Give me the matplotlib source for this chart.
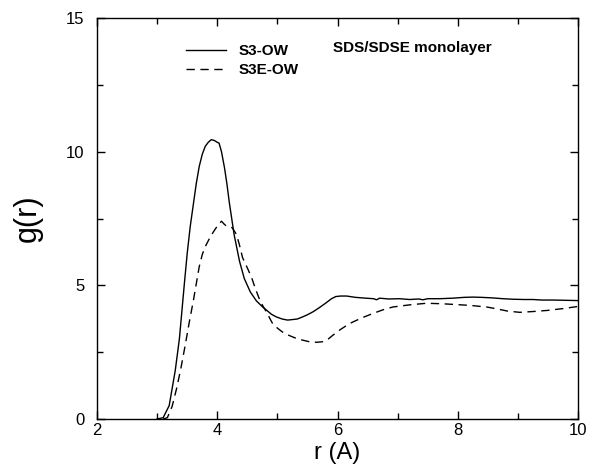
import numpy as np
import matplotlib
matplotlib.use('Agg')
import matplotlib.pyplot as plt
from matplotlib.ticker import MultipleLocator

plt.rcParams['font.family'] = ['Liberation Sans', 'DejaVu Sans']

# S3-OW radial distribution (solid)
r_s3 = [3.0, 3.1, 3.2, 3.3, 3.37, 3.45, 3.5, 3.55, 3.6, 3.65, 3.7, 3.75, 3.8, 3.85,
        3.9, 3.95, 4.0, 4.03, 4.07, 4.12, 4.16, 4.2, 4.28, 4.37, 4.45, 4.55, 4.65,
        4.75, 4.82, 4.9, 4.98, 5.08, 5.17, 5.25, 5.33, 5.42, 5.5, 5.6, 5.7, 5.8,
        5.9, 5.97, 6.05, 6.15, 6.3, 6.47, 6.6, 6.65, 6.7, 6.85, 7.03, 7.2, 7.35,
        7.42, 7.5, 7.7, 7.92, 8.1, 8.25, 8.4, 8.58, 8.75, 8.92, 9.1, 9.25, 9.4,
        9.58, 9.8, 10.0]
g_s3 = [0.0, 0.05, 0.5, 1.8, 3.0, 5.0, 6.2, 7.2, 8.0, 8.8, 9.45, 9.9, 10.2, 10.35,
        10.45, 10.42, 10.35, 10.32, 10.0, 9.4, 8.8, 8.1, 6.9, 5.9, 5.25, 4.75, 4.42,
        4.2, 4.07, 3.92, 3.82, 3.74, 3.7, 3.72, 3.74, 3.82, 3.9, 4.02, 4.17, 4.33,
        4.5, 4.58, 4.6, 4.6, 4.55, 4.52, 4.5, 4.46, 4.52, 4.49, 4.5, 4.47, 4.49,
        4.46, 4.5, 4.5, 4.52, 4.55, 4.56, 4.55, 4.53, 4.5, 4.48, 4.47, 4.47, 4.45,
        4.45, 4.44, 4.43]

# S3E-OW radial distribution (dashed)
r_s3e = [3.1, 3.17, 3.25, 3.33, 3.4, 3.47, 3.53, 3.6, 3.65, 3.7, 3.75, 3.8, 3.87,
         3.93, 3.98, 4.03, 4.07, 4.11, 4.15, 4.2, 4.25, 4.32, 4.37, 4.42, 4.5, 4.57,
         4.63, 4.7, 4.76, 4.82, 4.87, 4.92, 5.0, 5.08, 5.2, 5.32, 5.42, 5.53, 5.65,
         5.75, 5.85, 5.92, 6.05, 6.2, 6.4, 6.58, 6.75, 6.92, 7.2, 7.48, 7.75, 7.98,
         8.2, 8.48, 8.65, 8.82, 9.03, 9.25, 9.48, 9.75, 10.0]
g_s3e = [0.0, 0.05, 0.48, 1.2, 1.96, 2.8, 3.57, 4.4, 5.05, 5.7, 6.15, 6.45, 6.75,
         6.98, 7.15, 7.3, 7.4, 7.3, 7.22, 7.2, 7.15, 6.9, 6.5, 6.04, 5.65, 5.3,
         4.9, 4.49, 4.22, 4.0, 3.78, 3.57, 3.4, 3.26, 3.12, 3.01, 2.95, 2.89, 2.87,
         2.89, 3.0, 3.13, 3.35, 3.57, 3.78, 3.94, 4.08, 4.19, 4.27, 4.33, 4.31, 4.28,
         4.25, 4.19, 4.12, 4.04, 3.99, 4.02, 4.06, 4.13, 4.21]

fig = plt.figure(figsize=(5.92, 4.68), dpi=100)
ax = fig.add_axes([0.1639, 0.1047, 0.8125, 0.8568])

ax.plot(r_s3, g_s3, color='black', lw=1.0, label='S3-OW')
ax.plot(r_s3e, g_s3e, color='black', lw=1.0, dashes=(6, 4), label='S3E-OW')

ax.set_xlim(2, 10)
ax.set_ylim(0, 15)
ax.xaxis.set_major_locator(MultipleLocator(2))
ax.xaxis.set_minor_locator(MultipleLocator(1))
ax.yaxis.set_major_locator(MultipleLocator(5))
ax.yaxis.set_minor_locator(MultipleLocator(2.5))
ax.tick_params(which='both', direction='in', top=True, right=True, labelsize=12, width=1)
ax.tick_params(which='major', length=6)
ax.tick_params(which='minor', length=4)
ax.tick_params(axis='y', pad=9)
ax.tick_params(axis='x', pad=3)
for s in ax.spines.values():
    s.set_linewidth(1.0)

ax.set_xlabel('r (A)', fontsize=17)
ax.set_ylabel('g(r)', fontsize=22)
ax.xaxis.set_label_coords(0.5, -0.057)
ax.yaxis.set_label_coords(-0.112, 0.5)

ax.legend(loc='upper left', bbox_to_anchor=(0.17, 0.954), frameon=False,
          handlelength=2.6, handletextpad=0.8, labelspacing=0.35, borderpad=0,
          prop={'weight': 'bold', 'size': 11})
ax.text(0.49, 0.926, 'SDS/SDSE monolayer', transform=ax.transAxes, fontsize=11,
        fontweight='bold', va='center', ha='left')

fig.savefig('out.png', dpi=100)
